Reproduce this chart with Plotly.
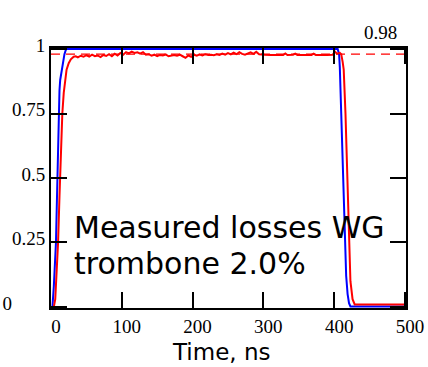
import plotly.graph_objects as go

# ---- data ----
blue_t = [0, 2, 4, 6, 7, 8, 9, 10, 11, 12, 13, 15, 17, 19, 21, 22,
          100, 200, 300, 405, 407, 408, 410, 413, 415, 417, 419, 421, 423, 500]
blue_v = [0.0, 0.0, 0.08, 0.18, 0.25, 0.37, 0.5, 0.7, 0.79, 0.84, 0.88, 0.92, 0.955, 0.98, 0.997, 1.0,
          1.0, 1.0, 1.0, 1.0, 0.98, 0.93, 0.75, 0.5, 0.25, 0.12, 0.05, 0.015, 0.002, 0.002]

red_t = [0, 4, 6, 8, 10, 12, 14, 16, 18, 20, 22, 25, 28, 32,
         35, 38, 42, 46, 50, 54, 58, 62, 66, 70, 74, 78, 82, 86, 90, 94, 98,
         102, 106, 110, 114, 118, 122, 126, 130, 134, 138, 142, 146, 150, 154, 158,
         162, 166, 170, 174, 178, 182, 186, 190, 194, 198, 202, 206, 210, 214, 218,
         222, 226, 230, 234, 238, 242, 246, 250, 254, 258, 262, 266, 270, 274, 278,
         282, 286, 290, 294, 298, 302, 310, 320, 328, 331, 334, 342, 345, 348, 360,
         368, 371, 374, 390, 398, 401, 404, 408, 410,
         412, 413.5, 416, 418.4, 420.7, 423, 426, 429, 500]
red_v = [0.0, 0.0, 0.03, 0.13, 0.25, 0.43, 0.6, 0.75, 0.83, 0.89, 0.92, 0.945, 0.96, 0.97,
         0.972, 0.968, 0.974, 0.97, 0.976, 0.971, 0.978, 0.972, 0.975, 0.969, 0.977, 0.973, 0.98, 0.972, 0.982, 0.975, 0.985,
         0.978, 0.988, 0.983, 0.99, 0.985, 0.987, 0.982, 0.988, 0.978, 0.98, 0.974, 0.978, 0.972, 0.977, 0.975,
         0.979, 0.972, 0.975, 0.977, 0.974, 0.978, 0.972, 0.966, 0.975, 0.97, 0.978, 0.974, 0.979, 0.975, 0.98,
         0.977, 0.978, 0.976, 0.98, 0.977, 0.982, 0.978, 0.984, 0.979, 0.986, 0.98, 0.988, 0.981, 0.978, 0.983,
         0.987, 0.981, 0.989, 0.98, 0.978, 0.978, 0.977, 0.978, 0.977, 0.983, 0.977, 0.978, 0.982, 0.977, 0.977,
         0.977, 0.982, 0.977, 0.977, 0.978, 0.99, 0.982, 0.985, 0.98,
         0.95, 0.92, 0.75, 0.5, 0.25, 0.1, 0.03, 0.01, 0.01]

ref_level = 0.98
ref_t = [0, 500]

x_ticks = [0, 100, 200, 300, 400, 500]
x_ticklabels = ["0", "100", "200", "300", "400", "500"]
y_ticks = [0, 0.25, 0.5, 0.75, 1]
y_ticklabels = ["0" + "\u00a0" * 7, "0.25", "0.5", "0.75", "1"]

annotation_lines = ["Measured losses WG", "trombone 2.0%"]
x_title = "Time, ns"
ref_label = "0.98"

# ---- figure ----
fig = go.Figure()
fig.add_trace(go.Scatter(x=ref_t, y=[ref_level, ref_level], mode="lines",
                         line=dict(color="#ff0000", width=1.3, dash="9px,6px"),
                         showlegend=False, hoverinfo="skip"))
fig.add_trace(go.Scatter(x=blue_t, y=blue_v, mode="lines",
                         line=dict(color="#0000ff", width=2),
                         showlegend=False))
fig.add_trace(go.Scatter(x=red_t, y=red_v, mode="lines",
                         line=dict(color="#ff0000", width=2),
                         showlegend=False))

serif = "Liberation Serif, Times New Roman, serif"
sans = "DejaVu Sans, sans-serif"

fig.update_layout(
    width=428, height=367,
    margin=dict(l=51, r=22, t=48, b=59, autoexpand=False),
    paper_bgcolor="white", plot_bgcolor="white",
    xaxis=dict(range=[0, 501.5], tickvals=x_ticks, ticktext=x_ticklabels,
               ticks="inside", ticklen=16, tickwidth=2, tickcolor="black",
               showline=True, linewidth=2, linecolor="black", mirror="ticks",
               showgrid=False, zeroline=False, ticklabelshift=5, automargin=False,
               tickfont=dict(family=serif, size=19, color="black")),
    yaxis=dict(range=[-0.004, 1.004], tickvals=y_ticks, ticktext=y_ticklabels,
               ticks="inside", ticklen=16, tickwidth=2, tickcolor="black",
               showline=True, linewidth=2, linecolor="black", mirror="ticks",
               showgrid=False, zeroline=False, ticklabelshift=-4, automargin=False,
               tickfont=dict(family=serif, size=19, color="black")),
)

fig.add_annotation(x=0.06, y=0.31, xref="paper", yref="paper", xanchor="left", yanchor="middle",
                   text=annotation_lines[0], showarrow=False,
                   font=dict(family=sans, size=30, color="black"))
fig.add_annotation(x=0.06, y=0.172, xref="paper", yref="paper", xanchor="left", yanchor="middle",
                   text=annotation_lines[1], showarrow=False,
                   font=dict(family=sans, size=30, color="black"))
fig.add_annotation(x=0.48, y=-0.168, xref="paper", yref="paper", xanchor="center", yanchor="middle",
                   text=x_title, showarrow=False,
                   font=dict(family=sans, size=23, color="black"))
fig.add_annotation(x=0.927, y=1.058, xref="paper", yref="paper", xanchor="center", yanchor="middle",
                   text=ref_label, showarrow=False,
                   font=dict(family=serif, size=19, color="black"))

fig.write_html("out.html", config={"displayModeBar": False},
               post_script="document.body.style.margin='0px';")
